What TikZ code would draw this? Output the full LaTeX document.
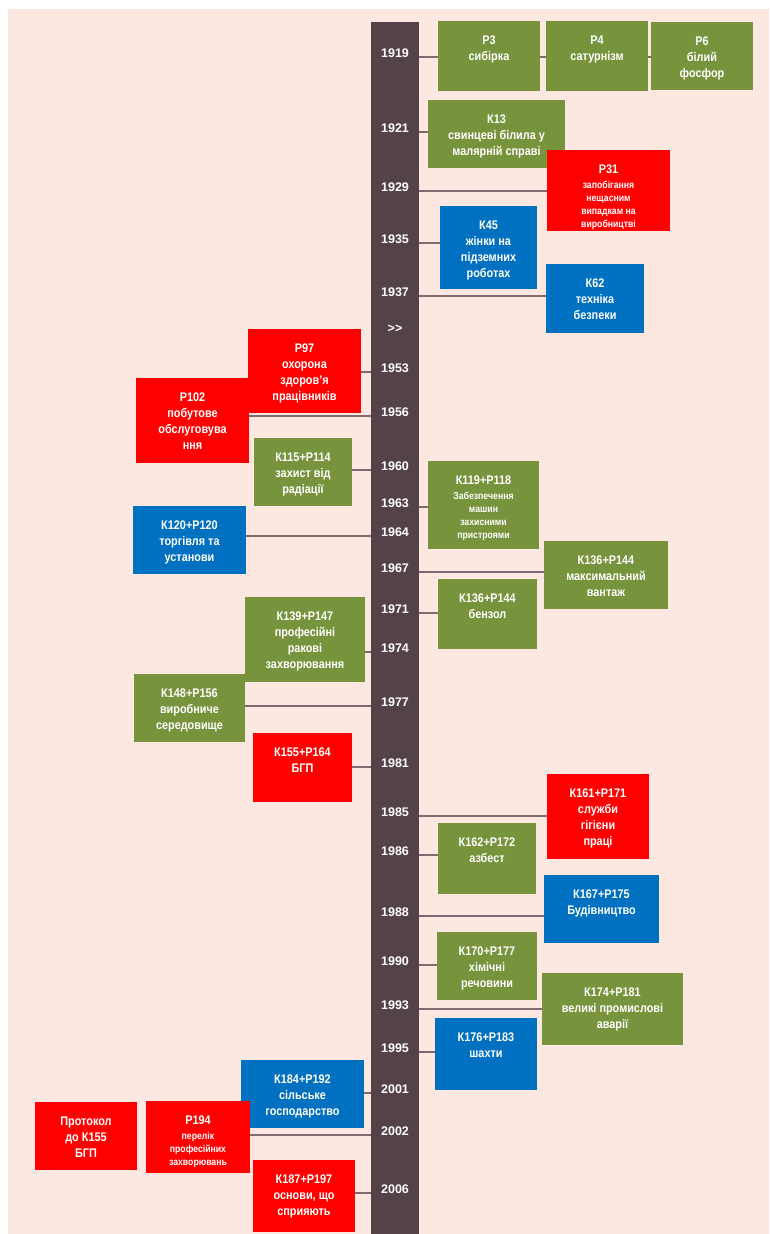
\documentclass[tikz,border=0pt]{standalone}
\usepackage{fontspec}
\setmainfont{Liberation Sans}
\newfontfamily\boxfont{Liberation Sans}[FakeStretch=0.87]
\definecolor{pagefill}{HTML}{FCE8E0}
\definecolor{axisfill}{HTML}{544249}
\definecolor{tickline}{HTML}{7F6B6F}
\definecolor{convgreen}{HTML}{77933C}
\definecolor{convred}{HTML}{FF0000}
\definecolor{convblue}{HTML}{0070C0}
\tikzset{
  box/.style={rectangle, inner sep=0pt, outer sep=0pt},
  greenbox/.style={box, fill=convgreen},
  redbox/.style={box, fill=convred},
  bluebox/.style={box, fill=convblue},
  boxtext/.style={anchor=north, align=center, text=white, inner sep=0pt, font=\boxfont\bfseries\fontsize{12.5}{16}\selectfont},
  smalltext/.style={boxtext, font=\boxfont\bfseries\fontsize{10}{13}\selectfont},
  year/.style={anchor=base, text=white, inner sep=0pt, font=\bfseries\fontsize{12.5}{15}\selectfont},
  tick/.style={draw=tickline, line width=1.3pt}
}
\newcommand{\titlesize}{\fontsize{12.5}{13}\selectfont}

\begin{document}
\begin{tikzpicture}[x=1pt, y=-1pt]
\useasboundingbox (0,0) rectangle (769,1234);
\fill[pagefill] (8,9) rectangle (769,1234);

% Timeline axis
\node[box, fill=axisfill, minimum width=48, minimum height=1212] (bar) at (395,628) {};

% Years (baseline = tick line)
\node[year] (y1919) at (395,57)   {1919};
\node[year] (y1921) at (395,132)  {1921};
\node[year] (y1929) at (395,191)  {1929};
\node[year] (y1935) at (395,243)  {1935};
\node[year] (y1937) at (395,296)  {1937};
\node[year] (gap)   at (395,332)  {{>}{>}};
\node[year] (y1953) at (395,372)  {1953};
\node[year] (y1956) at (395,416)  {1956};
\node[year] (y1960) at (395,470)  {1960};
\node[year] (y1963) at (395,507)  {1963};
\node[year] (y1964) at (395,536)  {1964};
\node[year] (y1967) at (395,572)  {1967};
\node[year] (y1971) at (395,613)  {1971};
\node[year] (y1974) at (395,652)  {1974};
\node[year] (y1977) at (395,706)  {1977};
\node[year] (y1981) at (395,767)  {1981};
\node[year] (y1985) at (395,816)  {1985};
\node[year] (y1986) at (395,855)  {1986};
\node[year] (y1988) at (395,916)  {1988};
\node[year] (y1990) at (395,965)  {1990};
\node[year] (y1993) at (395,1009) {1993};
\node[year] (y1995) at (395,1052) {1995};
\node[year] (y2001) at (395,1093) {2001};
\node[year] (y2002) at (395,1135) {2002};
\node[year] (y2006) at (395,1193) {2006};

% --- Right side ---
\node[greenbox, minimum width=102, minimum height=70] (p3)   at (489,56)     {};
\node[greenbox, minimum width=102, minimum height=70] (p4)   at (597,56)     {};
\node[greenbox, minimum width=102, minimum height=68] (p6)   at (702,56)     {};
\node[greenbox, minimum width=137, minimum height=68] (k13)  at (496.5,134)  {};
\node[redbox,   minimum width=123, minimum height=81] (p31)  at (608.5,190.5){};
\node[bluebox,  minimum width=97,  minimum height=83] (k45)  at (488.5,247.5){};
\node[bluebox,  minimum width=98,  minimum height=69] (k62)  at (595,298.5)  {};
\node[greenbox, minimum width=111, minimum height=88] (k119) at (483.5,505)  {};
\node[greenbox, minimum width=124, minimum height=68] (k136a) at (606,575)   {};
\node[greenbox, minimum width=99,  minimum height=70] (k136b) at (487.5,614) {};
\node[redbox,   minimum width=102, minimum height=85] (k161) at (598,816.5)  {};
\node[greenbox, minimum width=98,  minimum height=71] (k162) at (487,858.5)  {};
\node[bluebox,  minimum width=115, minimum height=68] (k167) at (601.5,909)  {};
\node[greenbox, minimum width=100, minimum height=68] (k170) at (487,966)    {};
\node[greenbox, minimum width=141, minimum height=72] (k174) at (612.5,1009) {};
\node[bluebox,  minimum width=102, minimum height=72] (k176) at (486,1054)   {};

% --- Left side ---
\node[redbox,   minimum width=113, minimum height=84] (p97)  at (304.5,371)  {};
\node[redbox,   minimum width=113, minimum height=85] (p102) at (192.5,420.5){};
\node[greenbox, minimum width=98,  minimum height=68] (k115) at (303,472)    {};
\node[bluebox,  minimum width=113, minimum height=68] (k120) at (189.5,540)  {};
\node[greenbox, minimum width=120, minimum height=85] (k139) at (305,639.5)  {};
\node[greenbox, minimum width=111, minimum height=68] (k148) at (189.5,708)  {};
\node[redbox,   minimum width=99,  minimum height=69] (k155) at (302.5,767.5){};
\node[bluebox,  minimum width=123, minimum height=68] (k184) at (302.5,1094) {};
\node[redbox,   minimum width=104, minimum height=72] (p194) at (198,1137)   {};
\node[redbox,   minimum width=102, minimum height=68] (prot) at (86,1136)    {};
\node[redbox,   minimum width=102, minimum height=72] (k187) at (304,1196)   {};

% Box texts
\node[boxtext]   (p3t)   at ([yshift=-14.5pt]p3.north)   {Р3\\сибірка};
\node[boxtext]   (p4t)   at ([yshift=-14.5pt]p4.north)   {Р4\\сатурнізм};
\node[boxtext]   (p6t)   at ([yshift=-14.5pt]p6.north)   {Р6\\білий\\фосфор};
\node[boxtext]   (k13t)  at ([yshift=-14.5pt]k13.north)  {К13\\свинцеві білила у\\малярній справі};
\node[smalltext] (p31t)  at ([yshift=-14.5pt]p31.north)  {{\titlesize Р31}\\[2pt]запобігання\\нещасним\\випадкам на\\виробництві};
\node[boxtext]   (k45t)  at ([yshift=-14.5pt]k45.north)  {К45\\жінки на\\підземних\\роботах};
\node[boxtext]   (k62t)  at ([yshift=-14.5pt]k62.north)  {К62\\техніка\\безпеки};
\node[boxtext]   (p97t)  at ([yshift=-14.5pt]p97.north)  {Р97\\охорона\\здоров’я\\працівників};
\node[boxtext]   (p102t) at ([yshift=-14.5pt]p102.north) {Р102\\побутове\\обслуговува\\ння};
\node[boxtext]   (k115t) at ([yshift=-14.5pt]k115.north) {К115+Р114\\захист від\\радіації};
\node[smalltext] (k119t) at ([yshift=-14.5pt]k119.north) {{\titlesize К119+Р118}\\[2pt]Забезпечення\\машин\\захисними\\пристроями};
\node[boxtext]   (k120t) at ([yshift=-14.5pt]k120.north) {К120+Р120\\торгівля та\\установи};
\node[boxtext]   (k136at) at ([yshift=-14.5pt]k136a.north) {К136+Р144\\максимальний\\вантаж};
\node[boxtext]   (k136bt) at ([yshift=-14.5pt]k136b.north) {К136+Р144\\бензол};
\node[boxtext]   (k139t) at ([yshift=-14.5pt]k139.north) {К139+Р147\\професійні\\ракові\\захворювання};
\node[boxtext]   (k148t) at ([yshift=-14.5pt]k148.north) {К148+Р156\\виробниче\\середовище};
\node[boxtext]   (k155t) at ([yshift=-14.5pt]k155.north) {К155+Р164\\БГП};
\node[boxtext]   (k161t) at ([yshift=-14.5pt]k161.north) {К161+Р171\\служби\\гігієни\\праці};
\node[boxtext]   (k162t) at ([yshift=-14.5pt]k162.north) {К162+Р172\\азбест};
\node[boxtext]   (k167t) at ([yshift=-14.5pt]k167.north) {К167+Р175\\Будівництво};
\node[boxtext]   (k170t) at ([yshift=-14.5pt]k170.north) {К170+Р177\\хімічні\\речовини};
\node[boxtext]   (k174t) at ([yshift=-14.5pt]k174.north) {К174+Р181\\великі промислові\\аварії};
\node[boxtext]   (k176t) at ([yshift=-14.5pt]k176.north) {К176+Р183\\шахти};
\node[boxtext]   (k184t) at ([yshift=-14.5pt]k184.north) {К184+Р192\\сільське\\господарство};
\node[smalltext] (p194t) at ([yshift=-14.5pt]p194.north) {{\titlesize Р194}\\[2pt]перелік\\професійних\\захворювань};
\node[boxtext]   (prott) at ([yshift=-14.5pt]prot.north) {Протокол\\до К155\\БГП};
\node[boxtext]   (k187t) at ([yshift=-14.5pt]k187.north) {К187+Р197\\основи, що\\сприяють};

% Ticks to the right
\draw[tick] (y1919.base -| bar.east) -- (y1919.base -| p3.west);
\draw[tick] (y1919.base -| p3.east)  -- (y1919.base -| p4.west);
\draw[tick] (y1919.base -| p4.east)  -- (y1919.base -| p6.west);
\draw[tick] (y1921.base -| bar.east) -- (y1921.base -| k13.west);
\draw[tick] (y1929.base -| bar.east) -- (y1929.base -| p31.west);
\draw[tick] (y1935.base -| bar.east) -- (y1935.base -| k45.west);
\draw[tick] (y1937.base -| bar.east) -- (y1937.base -| k62.west);
\draw[tick] (y1963.base -| bar.east) -- (y1963.base -| k119.west);
\draw[tick] (y1967.base -| bar.east) -- (y1967.base -| k136a.west);
\draw[tick] (y1971.base -| bar.east) -- (y1971.base -| k136b.west);
\draw[tick] (y1985.base -| bar.east) -- (y1985.base -| k161.west);
\draw[tick] (y1986.base -| bar.east) -- (y1986.base -| k162.west);
\draw[tick] (y1988.base -| bar.east) -- (y1988.base -| k167.west);
\draw[tick] (y1990.base -| bar.east) -- (y1990.base -| k170.west);
\draw[tick] (y1993.base -| bar.east) -- (y1993.base -| k174.west);
\draw[tick] (y1995.base -| bar.east) -- (y1995.base -| k176.west);
% Ticks to the left
\draw[tick] (y1953.base -| bar.west) -- (y1953.base -| p97.east);
\draw[tick] (y1956.base -| bar.west) -- (y1956.base -| p102.east);
\draw[tick] (y1960.base -| bar.west) -- (y1960.base -| k115.east);
\draw[tick] (y1964.base -| bar.west) -- (y1964.base -| k120.east);
\draw[tick] (y1974.base -| bar.west) -- (y1974.base -| k139.east);
\draw[tick] (y1977.base -| bar.west) -- (y1977.base -| k148.east);
\draw[tick] (y1981.base -| bar.west) -- (y1981.base -| k155.east);
\draw[tick] (y2001.base -| bar.west) -- (y2001.base -| k184.east);
\draw[tick] (y2002.base -| bar.west) -- (y2002.base -| p194.east);
\draw[tick] (y2006.base -| bar.west) -- (y2006.base -| k187.east);

\end{tikzpicture}
\end{document}
